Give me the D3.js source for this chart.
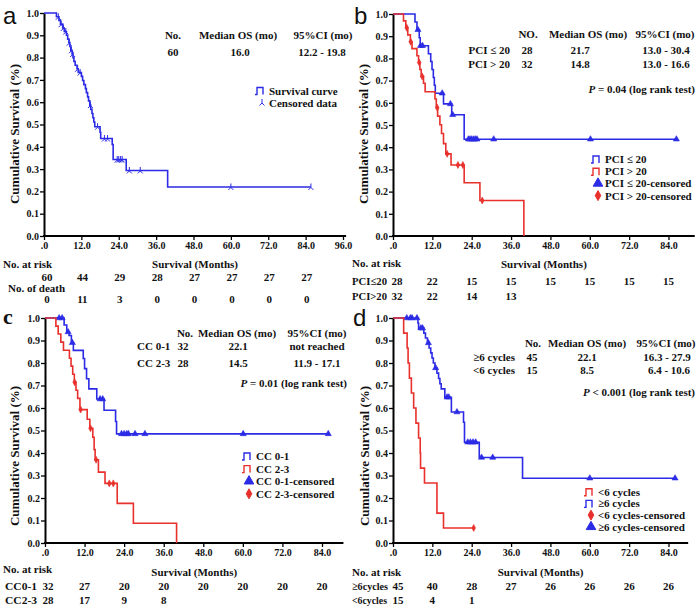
<!DOCTYPE html>
<html><head><meta charset="utf-8">
<script src="https://cdn.jsdelivr.net/npm/d3@7"></script>
<style>
body{margin:0;background:#fff;}
svg text{font-family:"Liberation Serif","Times New Roman",serif;font-weight:bold;fill:#111;}
</style></head><body>
<svg id="fig" width="699" height="608"></svg>
<script>
// ---- data ----
const survTicks = [0,0.1,0.2,0.3,0.4,0.5,0.6,0.7,0.8,0.9,1.0];
const monthTicks = [0,12,24,36,48,60,72,84];
const monthTicksA = [0,12,24,36,48,60,72,84,96];

// a: all patients  [time (months), survival after step]
const aSteps = [[4.0,0.983],[4.8,0.967],[5.3,0.950],[6.0,0.933],[6.5,0.917],[7.2,0.900],[7.6,0.883],[8.0,0.867],[8.3,0.850],[8.6,0.833],[9.0,0.816],[9.3,0.800],[9.6,0.783],[10.0,0.766],[10.6,0.750],[11.0,0.733],[12.0,0.715],[12.4,0.697],[12.8,0.679],[13.3,0.661],[13.6,0.643],[14.0,0.624],[14.3,0.606],[14.7,0.587],[15.0,0.568],[15.4,0.549],[15.7,0.530],[16.0,0.511],[16.3,0.490],[18.0,0.465],[18.2,0.437],[21.9,0.410],[22.2,0.343],[26.4,0.294],[39.7,0.220]];
const aCensor = [4.6,5.5,6.2,7.0,8.1,8.8,9.2,10.8,11.6,14.9,17.2,19.4,20.4,23.5,24.0,24.6,25.1,27.4,30.9,60.0,85.7];
const aEnd = 85.7;
const aAtRisk = [60,44,29,28,27,27,27,27];
const aDeaths = [0,11,3,0,0,0,0,0];

// b: PCI
const bBlue = [[6.7,0.964],[7.3,0.929],[8.0,0.893],[8.3,0.857],[10.8,0.821],[11.5,0.786],[11.9,0.750],[12.3,0.714],[12.6,0.679],[12.9,0.643],[15.4,0.595],[17.9,0.546],[21.7,0.436]];
const bBlueCensor = [7.6,8.4,9.0,15.0,17.5,18.2,23.0,23.5,24.0,24.6,25.1,25.6,30.7,60.2,86.4];
const bBlueEnd = 86.4;
const bRed = [[3.2,0.969],[3.9,0.938],[4.5,0.906],[5.3,0.875],[5.8,0.844],[7.3,0.812],[7.8,0.781],[8.2,0.750],[8.6,0.719],[9.3,0.688],[9.8,0.650],[12.8,0.617],[13.2,0.578],[13.6,0.540],[14.3,0.501],[14.8,0.462],[15.4,0.416],[16.1,0.370],[17.7,0.320],[21.7,0.240],[26.5,0.160],[39.9,0]];
const bRedCensor = [4.2,5.4,8.0,8.9,13.5,16.5,19.8,21.3,27.2];
const bRedEnd = 39.9;
const bRisk1 = [28,22,15,15,15,15,15,15];
const bRisk2 = [32,22,14,13];

// c: CC score
const cBlue = [[5.8,0.969],[6.6,0.938],[7.3,0.922],[8.0,0.890],[8.6,0.856],[11.6,0.820],[12.0,0.775],[12.6,0.730],[13.3,0.685],[15.7,0.640],[17.9,0.590],[21.4,0.540],[21.7,0.485]];
const cBlueCensor = [4.3,5.2,7.0,8.3,16.7,17.5,23.2,24.0,24.8,25.3,27.3,30.3,60.1,85.9];
const cBlueEnd = 85.9;
const cRed = [[3.3,0.964],[4.0,0.929],[4.8,0.893],[5.6,0.857],[7.4,0.821],[7.9,0.786],[8.4,0.750],[8.9,0.714],[9.4,0.679],[9.9,0.643],[10.6,0.593],[12.8,0.550],[13.6,0.510],[14.5,0.470],[14.9,0.415],[15.2,0.370],[16.2,0.315],[18.2,0.265],[21.9,0.176],[26.8,0.088],[39.9,0]];
const cRedCensor = [9.0,10.8,13.8,15.5,19.5,20.7];
const cRedEnd = 39.9;
const cRisk1 = [32,27,20,20,20,20,20,20];
const cRisk2 = [28,17,9,8];

// d: cycles
const dBlue = [[7.6,0.978],[7.8,0.955],[9.4,0.933],[9.9,0.911],[10.5,0.889],[11.0,0.867],[11.5,0.845],[11.9,0.822],[12.3,0.800],[12.8,0.778],[13.4,0.755],[13.9,0.731],[14.3,0.708],[14.7,0.685],[15.8,0.648],[17.8,0.582],[21.5,0.537],[21.8,0.448],[26.3,0.380],[39.5,0.288]];
const dBlueCensor = [4.2,5.3,5.8,7.3,8.5,9.0,10.8,13.0,16.5,17.0,19.5,22.8,23.6,24.4,25.2,27.0,30.4,60.0,86.0];
const dBlueEnd = 86.0;
const dRed = [[3.25,0.933],[4.3,0.867],[4.6,0.800],[5.0,0.733],[5.6,0.667],[6.3,0.600],[7.0,0.533],[7.8,0.467],[8.3,0.400],[8.4,0.333],[9.6,0.267],[13.4,0.133],[15.4,0.067]];
const dRedCensor = [24.6];
const dRedEnd = 24.6;
const dRisk1 = [45,40,28,27,26,26,26,26];
const dRisk2 = [15,4,1];

const BLUE = '#2b2be6', RED = '#e8302c';
const fig = d3.select('#fig');

function txt(g, x, y, s, size, anchor){
  return g.append('text').attr('x', x).attr('y', y).attr('font-size', size || 11)
    .attr('text-anchor', anchor || 'start').text(s);
}
// row label squeezed to the width it has in the figure
function label(g, x, y, s, w){
  return txt(g, x, y, s, 11).attr('textLength', w).attr('lengthAdjust', 'spacingAndGlyphs');
}

function level(steps, t){
  let s = 1;
  steps.forEach(([st, sv]) => { if (st <= t) s = sv; });
  return s;
}

const tri = d3.symbol(d3.symbolTriangle, 16)();
const triBig = d3.symbol(d3.symbolTriangle, 40)();
const diamond = 'M0,-3.5L1.8,0L0,3.5L-1.8,0Z';
const diamondBig = 'M0,-5L2.8,0L0,5L-2.8,0Z';
const tick = 'M0,-3.5V0.5M-2.5,3L0,0.5L2.5,3';
const stepIcon = 'M-7,4H-5V-3H1V4';

function drawPanel(p){
  const g = fig.append('g');
  const x = d3.scaleLinear().domain([0, p.xMax]).range([p.left, p.right]);
  const y = d3.scaleLinear().domain([0, 1]).range([p.bottom, p.top]);

  // y axis
  const gy = g.append('g').attr('transform', `translate(${p.left},0)`)
    .call(d3.axisLeft(y).tickValues(survTicks).tickSize(4).tickSizeOuter(0).tickPadding(1).tickFormat(d3.format('.1f')));
  gy.select('.domain').attr('stroke-width', 2);
  gy.selectAll('.tick line').attr('stroke-width', 1.3);
  gy.selectAll('text').attr('font-size', 10);

  // x axis
  const gx = g.append('g').attr('transform', `translate(0,${p.bottom})`)
    .call(d3.axisBottom(x).tickValues(p.xTicks).tickSize(4).tickSizeOuter(0).tickPadding(2)
      .tickFormat(d => d === 0 ? '.0' : d3.format('.1f')(d)));
  gx.select('.domain').remove();
  gx.selectAll('.tick line').attr('stroke-width', 1.3);
  gx.selectAll('text').attr('font-size', 10);
  g.append('line').attr('x1', x(0) - 1).attr('x2', x(p.axisEnd)).attr('y1', p.bottom).attr('y2', p.bottom)
    .attr('stroke', '#000').attr('stroke-width', 2);

  // y title
  g.append('text').attr('transform', `translate(${p.yTitleX},${p.yTitleY}) rotate(-90)`)
    .attr('font-size', 13).attr('text-anchor', 'middle').text('Cumulative Survival (%)');
  // x title
  txt(g, (x(0) + x(p.axisEnd)) / 2, p.xTitleY, 'Survival (Months)', 11, 'middle');

  // panel letter
  g.append('text').attr('x', p.letter[0]).attr('y', p.letter[1]).attr('font-size', p.letter[3])
    .style('font-family', p.letter[4]).style('font-weight', p.letter[5]).text(p.letter[2]);

  // curves
  p.curves.forEach(c => {
    let d = `M${x(0)},${y(1)}`;
    c.steps.forEach(([t, s]) => { d += `H${x(t)}V${y(s)}`; });
    if (c.end > c.steps[c.steps.length - 1][0]) d += `H${x(c.end)}`;
    g.append('path').attr('d', d).attr('fill', 'none').attr('stroke', c.color).attr('stroke-width', 1.6);
    g.selectAll(null).data(c.censor).join('path')
      .attr('transform', t => `translate(${x(t)},${y(level(c.steps, t))})`)
      .attr('d', c.mark)
      .attr('fill', c.mark === tick ? 'none' : c.color)
      .attr('stroke', c.color).attr('stroke-width', c.mark === tick ? 1 : 0.6);
  });

  // legend
  p.legend.forEach(([name, kind, color], i) => {
    const ly = p.legendY + i * p.legendGap;
    g.append('path').attr('transform', `translate(${p.legendX},${ly})`)
      .attr('d', kind).attr('fill', kind === stepIcon || kind === tick ? 'none' : color)
      .attr('stroke', color).attr('stroke-width', kind === stepIcon ? 1.4 : 1);
    txt(g, p.legendX + 7, ly + 4, name, 11);
  });

  return { g, x, y };
}

// ---- panel a ----
const A = drawPanel({
  left: 44, right: 343, xMax: 96, axisEnd: 97, top: 13, bottom: 236, xTicks: monthTicksA,
  yTitleX: 19, yTitleY: 134, xTitleY: 268,
  letter: [3, 24, 'a', 24, '"Liberation Sans", Arial, sans-serif', 'normal'],
  curves: [{ steps: aSteps, censor: aCensor, end: aEnd, color: BLUE, mark: tick }],
  legend: [['Survival curve', stepIcon, BLUE], ['Censored data', tick, BLUE]],
  legendX: 262, legendY: 90.5, legendGap: 12
});
txt(A.g, 173, 39, 'No.', 11, 'middle');
txt(A.g, 238, 39, 'Median OS (mo)', 11, 'middle');
txt(A.g, 323, 39, '95%CI (mo)', 11, 'middle');
txt(A.g, 173, 55.5, '60', 11, 'middle');
txt(A.g, 240, 55.5, '16.0', 11, 'middle');
txt(A.g, 322, 55.5, '12.2 - 19.8', 11, 'middle');
txt(A.g, 3, 268, 'No. at risk', 11);
txt(A.g, 8, 291.5, 'No. of death', 11);
monthTicks.forEach((t, i) => {
  txt(A.g, A.x(t) + (i === 0 ? 3 : 1), 280.5, aAtRisk[i], 11, 'middle');
  txt(A.g, A.x(t) + (i === 0 ? 3 : 1), 303, aDeaths[i], 11, 'middle');
});

// ---- panel b ----
const B = drawPanel({
  left: 393, right: 668.5, xMax: 84, axisEnd: 92, top: 14, bottom: 236, xTicks: monthTicks,
  yTitleX: 368, yTitleY: 134, xTitleY: 267.5,
  letter: [354, 24, 'b', 24, '"Liberation Sans", Arial, sans-serif', 'normal'],
  curves: [
    { steps: bBlue, censor: bBlueCensor, end: bBlueEnd, color: BLUE, mark: tri },
    { steps: bRed, censor: bRedCensor, end: bRedEnd, color: RED, mark: diamond }
  ],
  legend: [['PCI \u2264 20', stepIcon, BLUE], ['PCI > 20', stepIcon, RED],
           ['PCI \u2264 20-censored', triBig, BLUE], ['PCI > 20-censored', diamondBig, RED]],
  legendX: 598, legendY: 159, legendGap: 12.2
});
txt(B.g, 528, 38, 'NO.', 11, 'middle');
txt(B.g, 588, 38, 'Median OS (mo)', 11, 'middle');
txt(B.g, 665, 38, '95%CI (mo)', 11, 'middle');
txt(B.g, 510, 54, 'PCI \u2264 20', 11, 'end');
txt(B.g, 510, 68, 'PCI > 20', 11, 'end');
txt(B.g, 527, 54, '28', 11, 'middle');
txt(B.g, 527, 68, '32', 11, 'middle');
txt(B.g, 580, 54, '21.7', 11, 'middle');
txt(B.g, 580, 68, '14.8', 11, 'middle');
txt(B.g, 666, 54, '13.0 - 30.4', 11, 'middle');
txt(B.g, 666, 68, '13.0 - 16.6', 11, 'middle');
const pb = txt(B.g, 695, 93, '', 11, 'end');
pb.append('tspan').attr('font-style', 'italic').text('P');
pb.append('tspan').text(' = 0.04 (log rank test)');
txt(B.g, 352, 267, 'No. at risk', 11);
label(B.g, 352, 284.5, 'PCI\u226420', 35);
label(B.g, 352, 300, 'PCI>20', 35);
monthTicks.forEach((t, i) => {
  if (bRisk1[i] !== undefined) txt(B.g, B.x(t) + (i === 0 ? 4 : 0), 284.5, bRisk1[i], 11, 'middle');
  if (bRisk2[i] !== undefined) txt(B.g, B.x(t) + (i === 0 ? 4 : 0), 300, bRisk2[i], 11, 'middle');
});

// ---- panel c ----
const C = drawPanel({
  left: 45, right: 322, xMax: 84, axisEnd: 90.5, top: 318, bottom: 543, xTicks: monthTicks,
  yTitleX: 19, yTitleY: 456, xTitleY: 576,
  letter: [3, 324, 'c', 22, '"Liberation Serif", serif', 'bold'],
  curves: [
    { steps: cBlue, censor: cBlueCensor, end: cBlueEnd, color: BLUE, mark: tri },
    { steps: cRed, censor: cRedCensor, end: cRedEnd, color: RED, mark: diamond }
  ],
  legend: [['CC 0-1', stepIcon, BLUE], ['CC 2-3', stepIcon, RED],
           ['CC 0-1-censored', triBig, BLUE], ['CC 2-3-censored', diamondBig, RED]],
  legendX: 249, legendY: 456, legendGap: 12.6
});
txt(C.g, 185, 337, 'No.', 11, 'middle');
txt(C.g, 237, 337, 'Median OS (mo)', 11, 'middle');
txt(C.g, 317, 337, '95%CI (mo)', 11, 'middle');
txt(C.g, 137, 350, 'CC 0-1', 11);
txt(C.g, 137, 366.5, 'CC 2-3', 11);
txt(C.g, 183, 350, '32', 11, 'middle');
txt(C.g, 183, 366.5, '28', 11, 'middle');
txt(C.g, 238, 350, '22.1', 11, 'middle');
txt(C.g, 238, 366.5, '14.5', 11, 'middle');
txt(C.g, 317, 350, 'not reached', 11, 'middle');
txt(C.g, 317, 366.5, '11.9 - 17.1', 11, 'middle');
const pc = txt(C.g, 347, 386.5, '', 11, 'end');
pc.append('tspan').attr('font-style', 'italic').text('P');
pc.append('tspan').text(' = 0.01 (log rank test)');
txt(C.g, 3, 573, 'No. at risk', 11);
label(C.g, 5, 590, 'CC0-1', 32);
label(C.g, 5, 604, 'CC2-3', 32);
monthTicks.forEach((t, i) => {
  if (cRisk1[i] !== undefined) txt(C.g, C.x(t) + (i === 0 ? 3 : 0), 590, cRisk1[i], 11, 'middle');
  if (cRisk2[i] !== undefined) txt(C.g, C.x(t) + (i === 0 ? 3 : 0), 604, cRisk2[i], 11, 'middle');
});

// ---- panel d ----
const D = drawPanel({
  left: 393, right: 668.5, xMax: 84, axisEnd: 90, top: 318, bottom: 543, xTicks: monthTicks,
  yTitleX: 369, yTitleY: 456, xTitleY: 576,
  letter: [353, 326, 'd', 24, '"Liberation Sans", Arial, sans-serif', 'normal'],
  curves: [
    { steps: dBlue, censor: dBlueCensor, end: dBlueEnd, color: BLUE, mark: tri },
    { steps: dRed, censor: dRedCensor, end: dRedEnd, color: RED, mark: diamond }
  ],
  legend: [['<6 cycles', stepIcon, RED], ['\u22656 cycles', stepIcon, BLUE],
           ['<6 cycles-censored', diamondBig, RED], ['\u22656 cycles-censored', triBig, BLUE]],
  legendX: 591, legendY: 491.7, legendGap: 11.7
});
txt(D.g, 533, 347, 'No.', 11, 'middle');
txt(D.g, 587, 347, 'Median OS (mo)', 11, 'middle');
txt(D.g, 666, 347, '95%CI (mo)', 11, 'middle');
txt(D.g, 515, 361, '\u22656 cycles', 11, 'end');
txt(D.g, 515, 374, '<6 cycles', 11, 'end');
txt(D.g, 532, 361, '45', 11, 'middle');
txt(D.g, 532, 374, '15', 11, 'middle');
txt(D.g, 587, 361, '22.1', 11, 'middle');
txt(D.g, 587, 374, '8.5', 11, 'middle');
txt(D.g, 667, 361, '16.3 - 27.9', 11, 'middle');
txt(D.g, 669, 374, '6.4 - 10.6', 11, 'middle');
const pd = txt(D.g, 695, 395.5, '', 11, 'end');
pd.append('tspan').attr('font-style', 'italic').text('P');
pd.append('tspan').text(' < 0.001 (log rank test)');
txt(D.g, 352, 576, 'No. at risk', 11);
label(D.g, 352, 590, '\u22656cycles', 36);
label(D.g, 352, 604, '<6cycles', 35);
monthTicks.forEach((t, i) => {
  if (dRisk1[i] !== undefined) txt(D.g, D.x(t) + (i === 0 ? 5 : 0), 590, dRisk1[i], 11, 'middle');
  if (dRisk2[i] !== undefined) txt(D.g, D.x(t) + (i === 0 ? 5 : 0), 604, dRisk2[i], 11, 'middle');
});
</script></body></html>
